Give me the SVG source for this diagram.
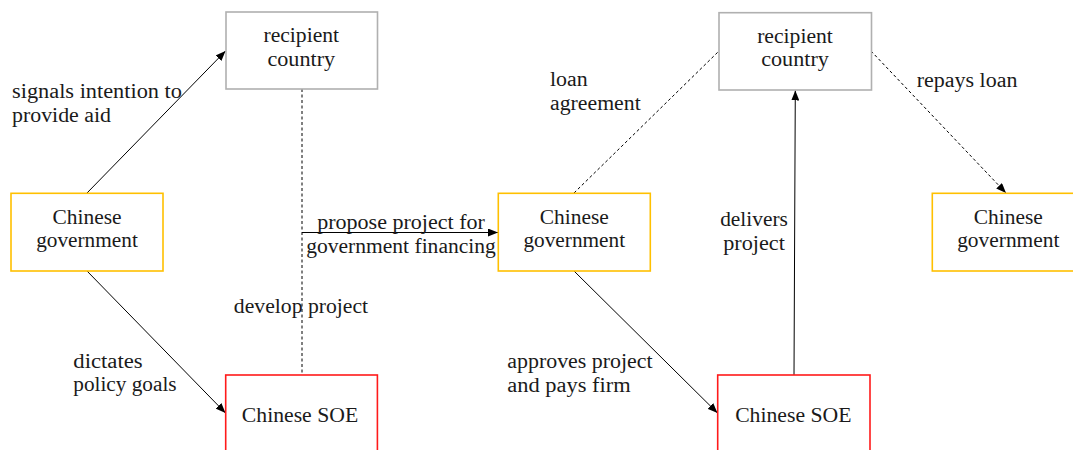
<svg xmlns="http://www.w3.org/2000/svg" width="1073" height="450" viewBox="0 0 1073 450" font-family="'Liberation Serif', 'DejaVu Serif', serif">
<style>
text{font-family:'Liberation Serif','DejaVu Serif',serif;font-size:20px;fill:#1a1a1a}
.c{text-anchor:middle}
.box{fill:#fff;stroke-width:1.6}
.gray{stroke:#b0b0b0}
.gold{stroke:#ffc000}
.red{stroke:#ff1a1a}
.ln{stroke:#000;stroke-width:1;fill:none}
.dash{stroke-dasharray:3 2.5}
</style>
<defs>
<marker id="ah" viewBox="0 0 10 8" refX="10" refY="4" markerWidth="10" markerHeight="8" markerUnits="userSpaceOnUse" orient="auto">
<path d="M0,0 L10,4 L0,8 Z" fill="#000"/>
</marker>
</defs>
<rect width="1073" height="450" fill="#fff"/>
<g id="connectors">
<line class="ln" x1="87" y1="193" x2="225.5" y2="51" marker-end="url(#ah)"/>
<line class="ln" x1="87" y1="271" x2="225.5" y2="413" marker-end="url(#ah)"/>
<line class="ln dash" x1="302" y1="89" x2="302" y2="375"/>
<line class="ln" x1="302" y1="232.5" x2="498" y2="232.5" marker-end="url(#ah)"/>
<line class="ln" x1="574" y1="271" x2="717.5" y2="413" marker-end="url(#ah)"/>
<line class="ln dash" x1="574" y1="193" x2="719" y2="51"/>
<line class="ln" x1="794" y1="375" x2="795.3" y2="90.5" marker-end="url(#ah)"/>
<line class="ln dash" x1="871" y1="51" x2="1006" y2="193" marker-end="url(#ah)"/>
</g>
<g id="labels">
<text x="12" y="98" textLength="170" lengthAdjust="spacingAndGlyphs">signals intention to</text>
<text x="12" y="121.5" textLength="99" lengthAdjust="spacingAndGlyphs">provide aid</text>
<text x="73.3" y="367.5" textLength="69.3" lengthAdjust="spacingAndGlyphs">dictates</text>
<text x="73.3" y="391" textLength="103.3" lengthAdjust="spacingAndGlyphs">policy goals</text>
<text class="c" x="401" y="229.3" textLength="167.7" lengthAdjust="spacingAndGlyphs">propose project for</text>
<text class="c" x="401" y="253.3" textLength="189.7" lengthAdjust="spacingAndGlyphs">government financing</text>
<text class="c" x="301" y="312.7" textLength="134.3" lengthAdjust="spacingAndGlyphs">develop project</text>
<text x="550" y="85.7" textLength="37.7" lengthAdjust="spacingAndGlyphs">loan</text>
<text x="550" y="109.5" textLength="90.7" lengthAdjust="spacingAndGlyphs">agreement</text>
<text x="507.3" y="368.3" textLength="145.3" lengthAdjust="spacingAndGlyphs">approves project</text>
<text x="507.3" y="391.7" textLength="123.3" lengthAdjust="spacingAndGlyphs">and pays firm</text>
<text class="c" x="754" y="226" textLength="67.7" lengthAdjust="spacingAndGlyphs">delivers</text>
<text class="c" x="754" y="249.5" textLength="61.7" lengthAdjust="spacingAndGlyphs">project</text>
<text x="916.7" y="87" textLength="100.7" lengthAdjust="spacingAndGlyphs">repays loan</text>
</g>
<g id="recipient1">
<rect class="box gray" x="226" y="12" width="151.5" height="77"/>
<text class="c" x="301.3" y="42.3" textLength="75.7" lengthAdjust="spacingAndGlyphs">recipient</text>
<text class="c" x="301.3" y="65.7" textLength="67.7" lengthAdjust="spacingAndGlyphs">country</text>
</g>
<g id="gov1">
<rect class="box gold" x="11" y="193.3" width="152" height="77.7"/>
<text class="c" x="87" y="223.5" textLength="69" lengthAdjust="spacingAndGlyphs">Chinese</text>
<text class="c" x="87" y="247.3" textLength="101.7" lengthAdjust="spacingAndGlyphs">government</text>
</g>
<g id="soe1">
<rect class="box red" x="225.7" y="375" width="151.7" height="78"/>
<text class="c" x="300" y="421.7" textLength="116.3" lengthAdjust="spacingAndGlyphs">Chinese SOE</text>
</g>
<g id="gov2">
<rect class="box gold" x="498.3" y="193.3" width="152" height="77.7"/>
<text class="c" x="574.3" y="223.5" textLength="69" lengthAdjust="spacingAndGlyphs">Chinese</text>
<text class="c" x="574.3" y="247.3" textLength="101.7" lengthAdjust="spacingAndGlyphs">government</text>
</g>
<g id="recipient2">
<rect class="box gray" x="719" y="12.7" width="152.5" height="77.3"/>
<text class="c" x="795" y="42.5" textLength="75.7" lengthAdjust="spacingAndGlyphs">recipient</text>
<text class="c" x="795" y="66" textLength="67.7" lengthAdjust="spacingAndGlyphs">country</text>
</g>
<g id="soe2">
<rect class="box red" x="717.7" y="375" width="152.3" height="78"/>
<text class="c" x="793.3" y="421.7" textLength="116.3" lengthAdjust="spacingAndGlyphs">Chinese SOE</text>
</g>
<g id="gov3">
<rect class="box gold" x="932.3" y="193.3" width="152" height="77.7"/>
<text class="c" x="1008.3" y="223.5" textLength="69" lengthAdjust="spacingAndGlyphs">Chinese</text>
<text class="c" x="1008.3" y="247.3" textLength="102.3" lengthAdjust="spacingAndGlyphs">government</text>
</g>
</svg>
